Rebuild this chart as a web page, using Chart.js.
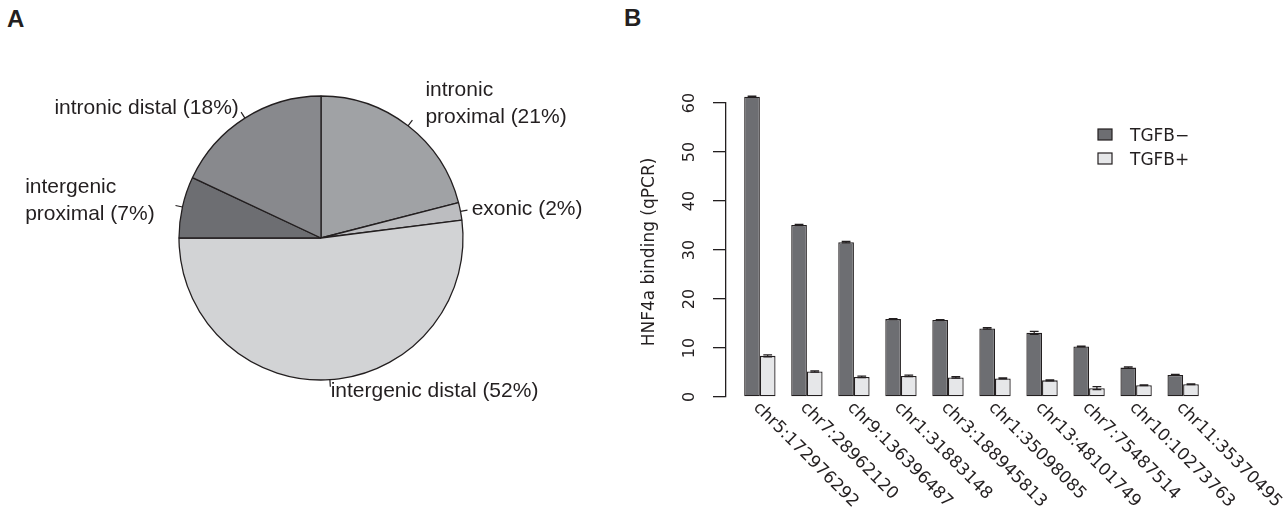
<!DOCTYPE html>
<html>
<head>
<meta charset="utf-8">
<script src="https://cdn.jsdelivr.net/npm/chart.js@4.4.1/dist/chart.umd.min.js"></script>
<style>
  html, body { margin: 0; padding: 0; background: #fff; }
  body { width: 1287px; height: 507px; position: relative; overflow: hidden; }
  .panel { position: absolute; font: bold 24px "Liberation Sans", Arial, sans-serif; line-height: 24px; color: #231f20; }
  #pieWrap { position: absolute; left: 0; top: 0; width: 620px; height: 507px; }
  #barWrap { position: absolute; left: 620px; top: 0; width: 667px; height: 507px; }
</style>
</head>
<body>
<div class="panel" style="left:7px;top:7px">A</div>
<div class="panel" style="left:624px;top:6px">B</div>
<div id="pieWrap"><canvas id="pieChart"></canvas></div>
<div id="barWrap"><canvas id="barChart"></canvas></div>
<script>
// Datos del gráfico de pastel (A)
const pieCategories = ['intronic\nproximal', 'exonic', 'intergenic distal', 'intergenic\nproximal', 'intronic distal'];
const piePercent = [21, 2, 52, 7, 18];
const pieColors = ['#a0a2a5', '#bcbdc0', '#d2d3d5', '#6d6e72', '#88898d'];

// Datos del gráfico de barras (B)
const sites = ['chr5:172976292', 'chr7:28962120', 'chr9:136396487', 'chr1:31883148', 'chr3:188945813',
               'chr1:35098085', 'chr13:48101749', 'chr7:75487514', 'chr10:10273763', 'chr11:35370495'];
const tgfbMinus = [61.3, 35.1, 31.6, 15.9, 15.7, 14.0, 13.1, 10.3, 6.0, 4.5];
const tgfbMinusErr = [0.1, 0.15, 0.15, 0.1, 0.1, 0.15, 0.3, 0.1, 0.15, 0.1];
const tgfbPlus = [8.4, 5.2, 4.1, 4.3, 4.0, 3.8, 3.4, 1.8, 2.4, 2.6];
const tgfbPlusErr = [0.2, 0.15, 0.15, 0.15, 0.15, 0.1, 0.1, 0.3, 0.1, 0.1];
const yTicks = [0, 10, 20, 30, 40, 50, 60];
const yTitle = 'HNF4a binding (qPCR)';

const ink = '#231f20';
const sansR = '"Liberation Sans", Arial, sans-serif';
const sansD = '"DejaVu Sans", Verdana, sans-serif';

// Etiquetas del pastel con marcas cortas
const pieLabelPlugin = {
    id: 'pieLabels',
    afterDatasetsDraw(chart) {
        const ctx = chart.ctx;
        const meta = chart.getDatasetMeta(0);
        ctx.save();
        ctx.font = '21px ' + sansR;
        ctx.fillStyle = ink;
        ctx.strokeStyle = ink;
        ctx.lineWidth = 1.2;
        ctx.textBaseline = 'middle';
        ctx.textAlign = 'left';
        meta.data.forEach((arc, i) => {
            const p = arc.getProps(['x', 'y', 'startAngle', 'endAngle', 'outerRadius'], true);
            const mid = (p.startAngle + p.endAngle) / 2;
            const c = Math.cos(mid), s = Math.sin(mid);
            const r = p.outerRadius;
            ctx.beginPath();
            ctx.moveTo(p.x + c * r, p.y + s * r);
            ctx.lineTo(p.x + c * r * 1.05, p.y + s * r * 1.05);
            ctx.stroke();
            const lines = chart.data.labels[i].split('\n');
            const k = 1.08 + 0.12 * (lines.length - 1);
            const ax = p.x + c * r * k;
            const ay = p.y + s * r * k;
            // bloque alineado a la derecha, líneas alineadas a la izquierda
            const maxW = Math.max(...lines.map(t => ctx.measureText(t).width));
            const left = c < 0 ? ax - maxW : ax;
            lines.forEach((t, j) => {
                ctx.fillText(t, left, ay + (j - (lines.length - 1) / 2) * 27);
            });
        });
        ctx.restore();
    }
};

new Chart(document.getElementById('pieChart'), {
    type: 'pie',
    data: {
        labels: pieCategories.map((c, i) => c + ' (' + piePercent[i] + '%)'),
        datasets: [{
            data: piePercent,
            backgroundColor: pieColors,
            borderColor: ink,
            borderWidth: 1.3
        }]
    },
    options: {
        responsive: true,
        maintainAspectRatio: false,
        animation: false,
        radius: 142,
        layout: { padding: { left: 22, right: 0, top: 0, bottom: 31 } },
        plugins: { legend: { display: false }, tooltip: { enabled: false } }
    },
    plugins: [pieLabelPlugin]
});

// Barras de error, etiquetas de ejes y leyenda
const barExtras = {
    id: 'barExtras',
    afterDatasetsDraw(chart) {
        const ctx = chart.ctx;
        const yScale = chart.scales.y;
        ctx.save();
        ctx.strokeStyle = ink;
        ctx.lineWidth = 1.2;
        chart.data.datasets.forEach((ds, d) => {
            chart.getDatasetMeta(d).data.forEach((bar, i) => {
                const v = ds.data[i].y;
                const e = ds.errors[i];
                const yTop = yScale.getPixelForValue(v + e);
                const yBot = yScale.getPixelForValue(v - e);
                const hw = bar.width * 0.28;
                ctx.beginPath();
                ctx.moveTo(bar.x, yTop); ctx.lineTo(bar.x, yBot);
                ctx.moveTo(bar.x - hw, yTop); ctx.lineTo(bar.x + hw, yTop);
                ctx.moveTo(bar.x - hw, yBot); ctx.lineTo(bar.x + hw, yBot);
                ctx.stroke();
            });
        });
        ctx.restore();
    },
    afterDraw(chart) {
        const ctx = chart.ctx;
        const xScale = chart.scales.x;
        const yScale = chart.scales.y;
        const area = chart.chartArea;
        ctx.save();
        ctx.fillStyle = ink;

        // etiquetas del eje y, giradas
        ctx.font = '16px ' + sansD;
        ctx.textAlign = 'center';
        ctx.textBaseline = 'middle';
        yTicks.forEach(v => {
            ctx.save();
            ctx.translate(area.left - 36, yScale.getPixelForValue(v));
            ctx.rotate(-Math.PI / 2);
            ctx.fillText(String(v), 0, 0);
            ctx.restore();
        });

        // título del eje y
        ctx.font = '17px ' + sansD;
        ctx.save();
        ctx.translate(area.left - 76, (area.top + area.bottom) / 2 + 2);
        ctx.rotate(-Math.PI / 2);
        ctx.fillText(yTitle, 0, 0);
        ctx.restore();

        // etiquetas del eje x a -45 grados
        ctx.font = '17px ' + sansD;
        ctx.textAlign = 'left';
        sites.forEach((s, i) => {
            ctx.save();
            ctx.translate(xScale.getPixelForValue(i) - 4, area.bottom + 8);
            ctx.rotate(Math.PI / 4);
            ctx.fillText(s, 0, 0);
            ctx.restore();
        });

        // leyenda
        ctx.textAlign = 'left';
        ctx.textBaseline = 'alphabetic';
        ctx.lineWidth = 1.2;
        chart.data.datasets.forEach((ds, d) => {
            const y0 = 129 + d * 24;
            ctx.fillStyle = ds.backgroundColor;
            ctx.fillRect(478, y0, 14, 11);
            ctx.strokeStyle = ink;
            ctx.strokeRect(478, y0, 14, 11);
            ctx.fillStyle = ink;
            ctx.fillText(ds.label, 510, y0 + 12);
        });
        ctx.restore();
    }
};

new Chart(document.getElementById('barChart'), {
    type: 'bar',
    data: {
        datasets: [{
            label: 'TGFB\u2212',
            data: tgfbMinus.map((v, i) => ({ x: i, y: v })),
            errors: tgfbMinusErr,
            backgroundColor: '#6d6e72'
        }, {
            label: 'TGFB+',
            data: tgfbPlus.map((v, i) => ({ x: i, y: v })),
            errors: tgfbPlusErr,
            backgroundColor: '#e6e7e9'
        }]
    },
    options: {
        responsive: true,
        maintainAspectRatio: false,
        animation: false,
        layout: { padding: { top: 103, bottom: 110, left: 0, right: 70 } },
        datasets: {
            bar: {
                categoryPercentage: 2 / 3,
                barPercentage: 1,
                borderColor: ink,
                borderWidth: 1.3,
                borderSkipped: false,
                clip: false
            }
        },
        plugins: { legend: { display: false }, tooltip: { enabled: false } },
        scales: {
            x: { type: 'linear', min: -0.72, max: 9.72, offset: false, display: false },
            y: {
                min: 0,
                max: 60,
                ticks: { display: false, stepSize: 10 },
                grid: { drawOnChartArea: false, drawTicks: true, tickLength: 13, color: ink, lineWidth: 1.3 },
                border: { display: true, color: ink, width: 1.3 },
                afterFit(scale) { scale.width = 106; }
            }
        }
    },
    plugins: [barExtras]
});
</script>
</body>
</html>
